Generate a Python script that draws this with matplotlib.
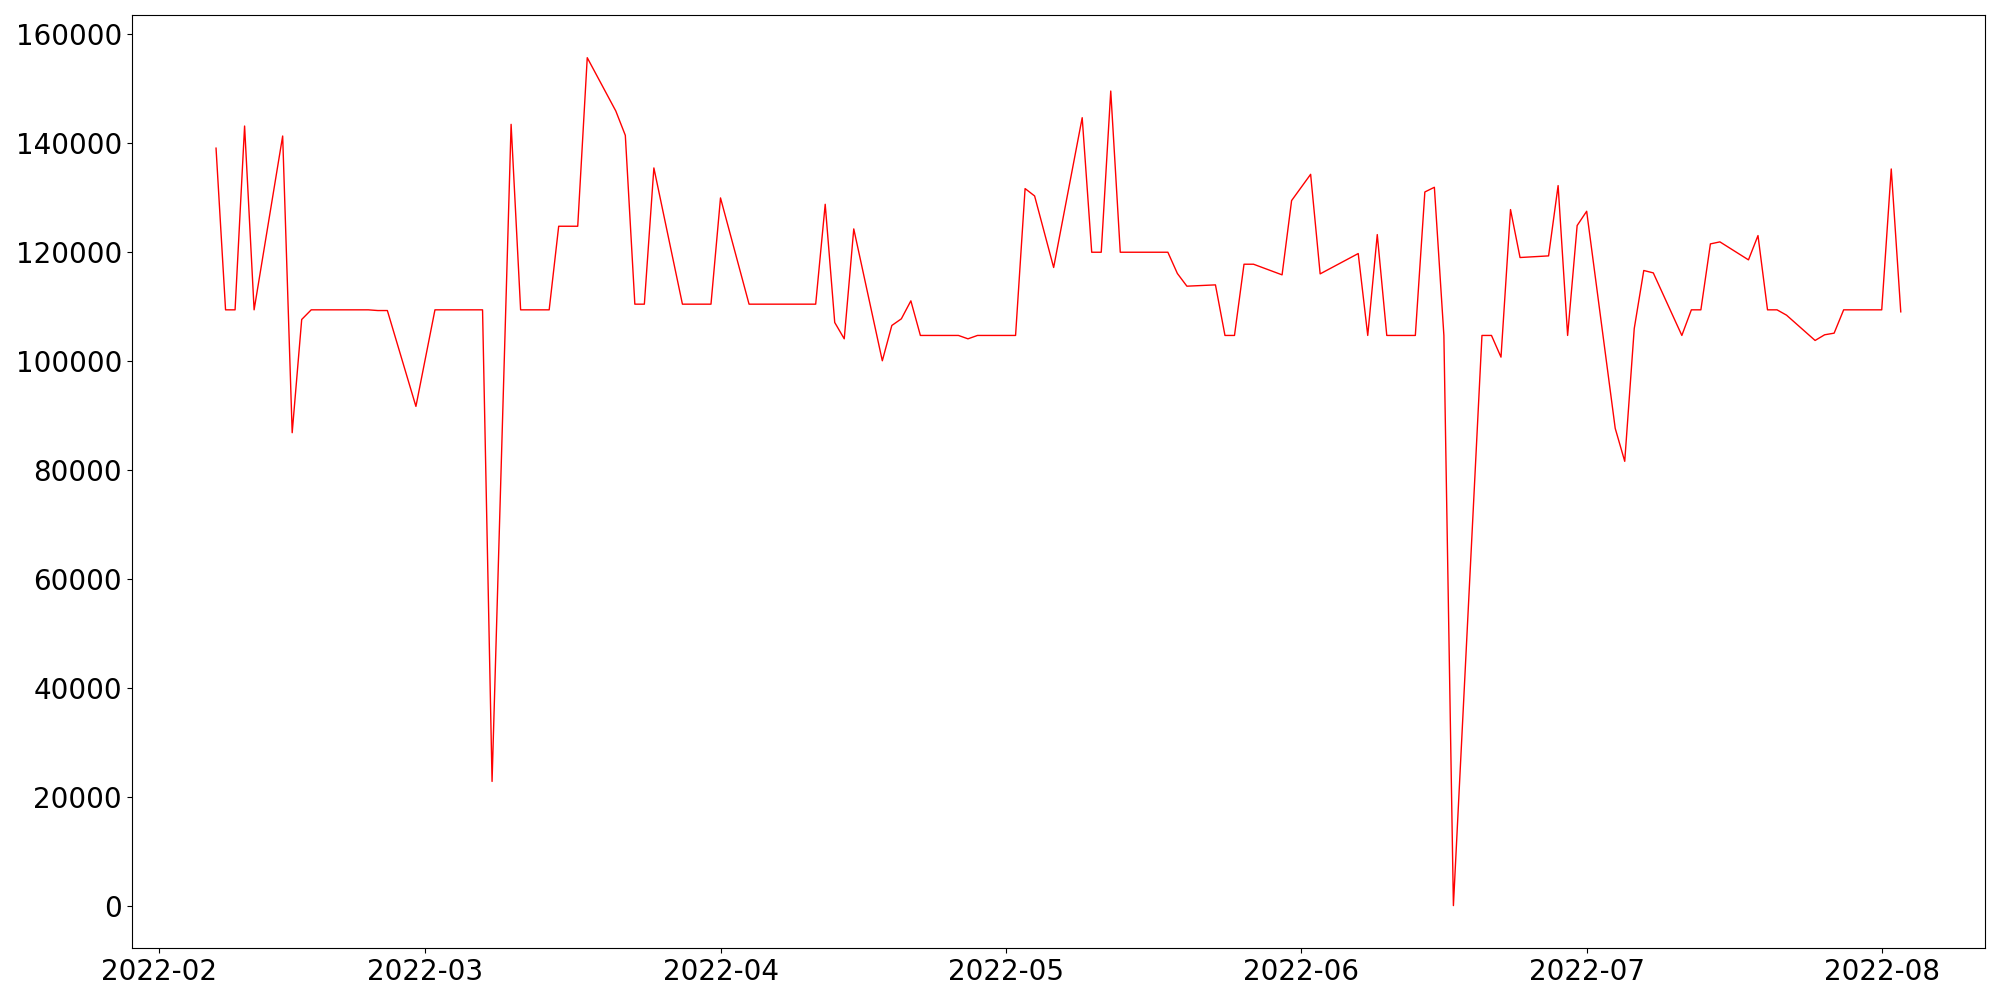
import matplotlib
matplotlib.use("Agg")
import matplotlib.pyplot as plt
import matplotlib.dates as mdates
import pandas as pd

dates = [
    "2022-02-07", "2022-02-08", "2022-02-09", "2022-02-10", "2022-02-11",
    "2022-02-14", "2022-02-15", "2022-02-16", "2022-02-17", "2022-02-18",
    "2022-02-21", "2022-02-22", "2022-02-23", "2022-02-24", "2022-02-25",
    "2022-02-28", "2022-03-02", "2022-03-03", "2022-03-04",
    "2022-03-07", "2022-03-08", "2022-03-10", "2022-03-11",
    "2022-03-14", "2022-03-15", "2022-03-16", "2022-03-17", "2022-03-18",
    "2022-03-21", "2022-03-22", "2022-03-23", "2022-03-24", "2022-03-25",
    "2022-03-28", "2022-03-29", "2022-03-30", "2022-03-31", "2022-04-01",
    "2022-04-04", "2022-04-05", "2022-04-06", "2022-04-07", "2022-04-08",
    "2022-04-11", "2022-04-12", "2022-04-13", "2022-04-14", "2022-04-15",
    "2022-04-18", "2022-04-19", "2022-04-20", "2022-04-21", "2022-04-22",
    "2022-04-25", "2022-04-26", "2022-04-27", "2022-04-28", "2022-04-29",
    "2022-05-02", "2022-05-03", "2022-05-04", "2022-05-06",
    "2022-05-09", "2022-05-10", "2022-05-11", "2022-05-12", "2022-05-13",
    "2022-05-16", "2022-05-17", "2022-05-18", "2022-05-19", "2022-05-20",
    "2022-05-23", "2022-05-24", "2022-05-25", "2022-05-26", "2022-05-27",
    "2022-05-30", "2022-05-31", "2022-06-02", "2022-06-03",
    "2022-06-07", "2022-06-08", "2022-06-09", "2022-06-10",
    "2022-06-13", "2022-06-14", "2022-06-15", "2022-06-16", "2022-06-17",
    "2022-06-20", "2022-06-21", "2022-06-22", "2022-06-23", "2022-06-24",
    "2022-06-27", "2022-06-28", "2022-06-29", "2022-06-30", "2022-07-01",
    "2022-07-04", "2022-07-05", "2022-07-06", "2022-07-07", "2022-07-08",
    "2022-07-11", "2022-07-12", "2022-07-13", "2022-07-14", "2022-07-15",
    "2022-07-18", "2022-07-19", "2022-07-20", "2022-07-21", "2022-07-22",
    "2022-07-25", "2022-07-26", "2022-07-27", "2022-07-28", "2022-07-29",
    "2022-08-01", "2022-08-02", "2022-08-03",
]

values = [
    139000, 109330, 109330, 143060, 109330,
    141230, 86780, 107560, 109330, 109330,
    109330, 109330, 109330, 109200, 109200,
    91610, 109330, 109330, 109330,
    109330, 22790, 143370, 109330,
    109330, 124670, 124670, 124670, 155600,
    145820, 141350, 110370, 110370, 135370,
    110370, 110370, 110370, 110370, 129870,
    110370, 110370, 110370, 110370, 110370,
    110370, 128700, 107010, 104010, 124180,
    99980, 106460, 107680, 110980, 104630,
    104630, 104630, 104010, 104630, 104630,
    104630, 131580, 130230, 117100,
    144590, 119900, 119900, 149480, 119900,
    119900, 119900, 119900, 116000, 113670,
    113910, 104630, 104630, 117700, 117700,
    115750, 129380, 134200, 115930,
    119660, 104630, 123140, 104630,
    104630, 130960, 131820, 104630, 0,
    104630, 104630, 100650, 127730, 118930,
    119230, 132130, 104630, 124800, 127420,
    87580, 81530, 105910, 116550, 116110,
    104630, 109330, 109330, 121430, 121800,
    118500, 122960, 109330, 109330, 108350,
    103710, 104750, 105050, 109330, 109330,
    109330, 135180, 108960,
]

x = pd.to_datetime(dates)

fig = plt.figure(figsize=(20, 10), dpi=100)
ax = fig.add_axes([0.0659, 0.052, 0.9266, 0.9327])
ax.plot(x, values, color="red", linewidth=1.0)

ax.xaxis.set_major_locator(mdates.MonthLocator())
ax.xaxis.set_major_formatter(mdates.DateFormatter("%Y-%m"))
ax.tick_params(axis="both", labelsize=20)

fig.savefig("out.png", dpi=100)
